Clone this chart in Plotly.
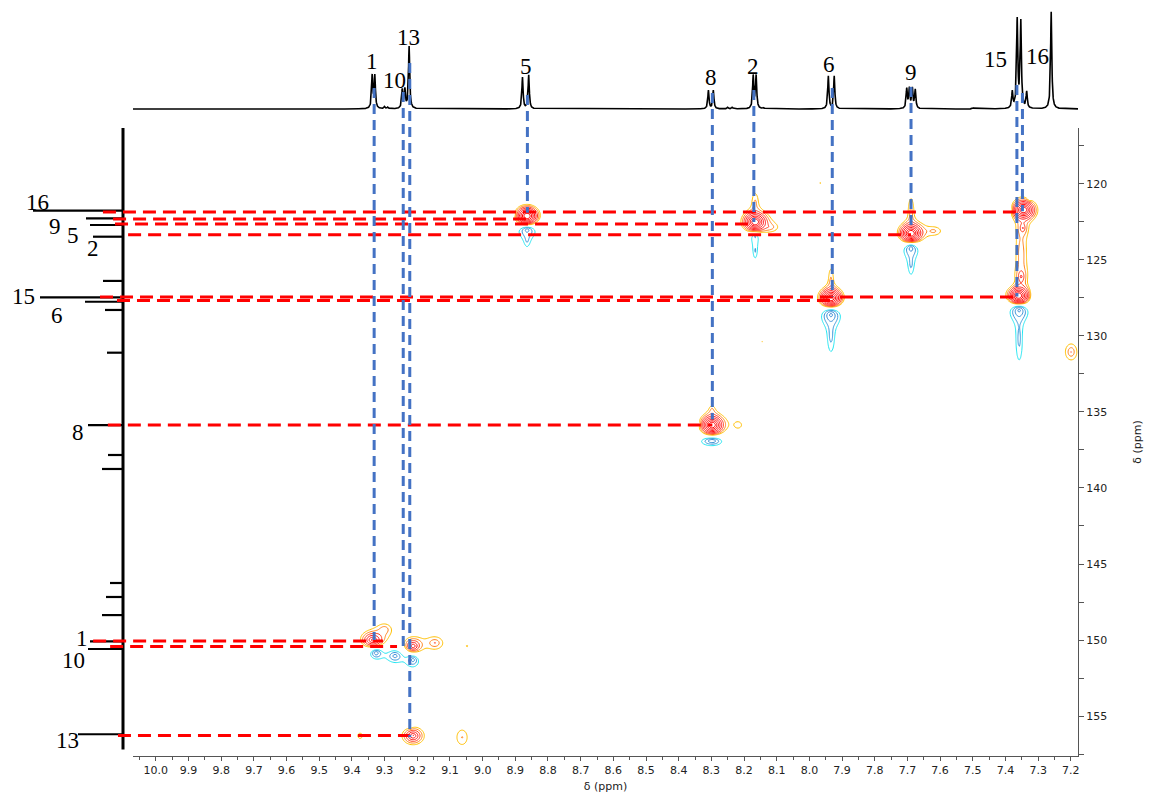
import numpy as np
import plotly.graph_objects as go

# ---------------- 1H projection (top trace) ----------------
h1_shift = [9.338, 9.330, 9.300, 9.290, 9.246, 9.238, 9.225,
            8.878, 8.859,
            8.309, 8.294, 8.250, 8.236,
            8.172, 8.163, 8.140,
            7.942, 7.924,
            7.702, 7.694, 7.685, 7.676,
            7.500,
            7.379, 7.364, 7.353, 7.335,
            7.260]
h1_height = [0.30, 0.30, 0.02, 0.015, 0.17, 0.17, 0.57,
             0.29, 0.31,
             0.17, 0.17, 0.015, 0.015,
             0.30, 0.30, 0.012,
             0.30, 0.30,
             0.18, 0.18, 0.18, 0.17,
             0.01,
             0.15, 0.81, 0.79, 0.15,
             0.89]
h1_hwhm = 0.0022

# ---------------- 13C projection (left stick trace) ----------------
c13_shift = [121.76, 122.26, 122.70, 123.47, 126.38, 127.46, 127.75, 128.29,
             131.10, 135.86, 137.83, 138.75, 146.25, 147.17, 148.36,
             150.09, 150.59, 156.20]
c13_height = [90, 37, 33, 30, 20, 83, 38, 18,
              16, 35, 15, 21, 13, 17, 21,
              33, 35, 45]

# ---------------- HSQC cross peaks ----------------
# positive responses: 1H ppm, 13C ppm, amplitude, decay widths (1H, 13C)
pos_h = [9.336, 9.300, 9.213, 9.146, 9.048, 9.213, 9.375, 9.063,
         8.864, 8.166, 8.166, 8.120, 8.298, 8.218, 8.298,
         7.934, 7.934, 7.689, 7.689, 7.620,
         7.345, 7.360, 7.352, 7.347, 7.352, 7.199, 7.967, 8.145]
pos_c = [150.00, 149.30, 150.40, 150.20, 150.40, 156.30, 156.30, 156.40,
         122.11, 122.50, 121.25, 122.85, 135.86, 135.86, 134.90,
         127.50, 126.40, 123.25, 121.90, 123.10,
         121.71, 127.35, 124.60, 122.90, 126.10, 131.05, 119.94, 130.40]
pos_amp = [0.25, 0.05, 0.20, 0.06, 0.03, 0.22, 0.033, 0.04,
           1.0, 1.0, 0.045, 0.045, 1.0, 0.035, 0.04,
           1.0, 0.05, 1.0, 0.05, 0.045,
           1.0, 1.0, 0.06, 0.07, 0.08, 0.06, 0.03, 0.03]
pos_lh = [0.017, 0.025, 0.0147, 0.027, 0.010, 0.0155, 0.025, 0.033,
          0.0116, 0.0116, 0.016, 0.036, 0.0116, 0.030, 0.012,
          0.0116, 0.013, 0.0116, 0.013, 0.036,
          0.0116, 0.0116, 0.020, 0.009, 0.011, 0.020, 0.010, 0.010]
pos_lc = [0.26, 0.45, 0.28, 0.45, 0.20, 0.27, 0.60, 1.00,
          0.214, 0.214, 1.10, 0.45, 0.214, 0.60, 0.50,
          0.214, 1.40, 0.214, 1.43, 0.45,
          0.214, 0.214, 2.00, 0.28, 0.38, 0.60, 0.20, 0.20]

# negative responses (magnitudes)
neg_h = [8.864, 8.864, 8.905,
         8.166, 8.166,
         8.298, 8.335,
         7.934, 7.934,
         7.689, 7.689,
         7.381, 7.327,
         7.381, 7.310, 7.358, 7.358,
         9.326, 9.268, 9.213, 9.390, 9.222]
neg_c = [123.00, 123.70, 122.00,
         123.40, 124.40,
         136.90, 135.80,
         128.60, 130.00,
         124.20, 125.30,
         121.70, 121.00,
         127.30, 127.30, 128.30, 130.20,
         150.85, 151.05, 151.30, 150.50, 155.40]
neg_amp = [0.07, 0.035, 0.03,
           0.055, 0.04,
           0.10, 0.03,
           0.10, 0.05,
           0.08, 0.045,
           0.035, 0.03,
           0.035, 0.04, 0.10, 0.05,
           0.09, 0.075, 0.08, 0.03, 0.03]
neg_lh = [0.025, 0.014, 0.006,
          0.020, 0.012,
          0.026, 0.006,
          0.020, 0.016,
          0.020, 0.015,
          0.010, 0.006,
          0.010, 0.012, 0.020, 0.016,
          0.016, 0.020, 0.018, 0.010, 0.006]
neg_lc = [0.40, 0.80, 0.15,
          0.45, 1.00,
          0.25, 0.15,
          0.45, 1.60,
          0.45, 1.20,
          0.40, 0.20,
          0.40, 0.50, 0.45, 2.20,
          0.30, 0.35, 0.40, 0.30, 0.30]

# ---------------- assignments ----------------
# horizontal (13C) guides: 13C ppm, 1H ppm where each stops, left start
hc_label = ['16', '5', '2', '9', '15', '6', '8', '1', '10', '13']
hc_c = [121.84, 122.30, 122.63, 123.35, 127.43, 127.66, 135.86, 150.07, 150.42, 156.28]
hc_h_end = [7.348, 8.863, 8.170, 7.689, 7.365, 7.930, 8.297, 9.305, 9.262, 9.223]
hc_h_start = [10.162, 10.131, 10.125, 10.085, 10.171, 10.119, 10.147, 10.192, 10.140, 10.116]

# vertical (1H) guides
vg_label = ['1', '10', '13', '5', '8', '2', '6', '9', '15', '16']
vg_h = [9.332, 9.243, 9.223, 8.863, 8.297, 8.170, 7.930, 7.689, 7.365, 7.348]
vg_c_top = [113.69, 113.95, 112.04, 114.15, 114.02, 113.82, 113.69, 113.62, 113.49, 114.02]
vg_c_end = [150.0, 150.4, 156.4, 121.9, 135.5, 122.5, 127.4, 122.9, 127.4, 121.8]

# label positions (page pixels) for the numbering
top_lab_text = ['1', '10', '13', '5', '8', '2', '6', '9', '15', '16']
top_lab_px = [(372, 62), (394, 80), (408, 37), (526, 67), (711, 77),
              (753, 67), (829, 65), (911, 72), (995, 60), (1037, 57)]
left_lab_text = ['16', '9', '5', '2', '15', '6', '8', '1', '10', '13']
left_lab_px = [(37, 202), (55, 227), (73, 236), (93, 248), (23, 296),
               (57, 315), (78, 432), (82, 638), (73, 660), (67, 740)]

# ---------------- geometry ----------------
W, H = 1149, 796
ML, MR, MT, MB = 0, 71, 0, 40
PW, PH = W - ML - MR, H - MT - MB          # plot area 1078 x 756
X_MAIN0 = 133                               # left edge of the 2D panel
Y_MAIN0 = 128                               # top edge of the 2D panel
H_RANGE = [10.070, 7.178]
C_RANGE = [157.63, 116.32]
px_per_h = (PW - X_MAIN0) / (H_RANGE[0] - H_RANGE[1])
px_per_c = (PH - Y_MAIN0) / (C_RANGE[0] - C_RANGE[1])
H_EXT = [H_RANGE[0] + X_MAIN0 / px_per_h, H_RANGE[1]]
C_EXT = [C_RANGE[0], C_RANGE[1] - Y_MAIN0 / px_per_c]

# ---------------- computed traces ----------------
hx = np.arange(H_RANGE[1], H_RANGE[0], 0.0005)
hy = np.zeros_like(hx)
for s, a in zip(h1_shift, h1_height):
    hy += a / (1.0 + ((hx - s) / h1_hwhm) ** 2)

gh = np.arange(H_RANGE[1] - 0.01, H_RANGE[0] + 0.01, 0.0035)
gc = np.arange(C_RANGE[1] - 0.3, C_RANGE[0] + 0.3, 0.07)
GH, GC = np.meshgrid(gh, gc)
Z = np.zeros_like(GH)


def cross_peak(h, c, a, lh, lc):
    return a * np.exp(-np.sqrt(((GH - h) / lh) ** 2 + ((GC - c) / lc) ** 2))


for p in zip(pos_h, pos_c, pos_amp, pos_lh, pos_lc):
    Z += cross_peak(*p)
for p in zip(neg_h, neg_c, neg_amp, neg_lh, neg_lc):
    Z -= cross_peak(*p)
z_pos = np.log10(np.maximum(Z, 1e-7)).astype(np.float32)
z_neg = np.log10(np.maximum(-Z, 1e-7)).astype(np.float32)

# geometric contour levels: 0.025 * 1.5**k, k = 0..7
N_LEV = 8
lev0 = np.log10(0.025)
lev_step = np.log10(1.5)
lev1 = lev0 + (N_LEV - 1) * lev_step

fig = go.Figure()

fig.add_trace(go.Contour(
    x=gh, y=gc, z=z_pos, xaxis='x', yaxis='y',
    contours=dict(start=lev0, end=lev1, size=lev_step, coloring='lines'),
    colorscale=[[0, '#FFC000'], [0.07, '#FFC000'], [0.143, '#FF9020'],
                [0.286, '#FF4A1A'], [0.43, '#FF1A1A'], [1, '#FF0000']],
    zmin=lev0, zmax=lev1, zauto=False, showscale=False,
    line=dict(width=1), hoverinfo='skip'))
fig.add_trace(go.Contour(
    x=gh, y=gc, z=z_neg, xaxis='x', yaxis='y',
    contours=dict(start=lev0, end=lev1, size=lev_step, coloring='lines'),
    colorscale=[[0, '#22E6F2'], [0.07, '#22E6F2'], [0.143, '#3A98DA'], [1, '#3070C8']],
    zmin=lev0, zmax=lev1, zauto=False, showscale=False,
    line=dict(width=1), hoverinfo='skip'))

# 1H projection
fig.add_trace(go.Scatter(x=hx, y=hy, xaxis='x', yaxis='y3', mode='lines',
                         line=dict(color='black', width=1.6), hoverinfo='skip'))

# 13C projection: baseline and sticks
fig.add_trace(go.Scatter(x=[0, 0], y=[C_RANGE[1], 157.2], xaxis='x2', yaxis='y',
                         mode='lines', line=dict(color='black', width=3), hoverinfo='skip'))
sx, sy = [], []
for c, a in zip(c13_shift, c13_height):
    sx += [0, a, None]
    sy += [c, c, None]
fig.add_trace(go.Scatter(x=sx, y=sy, xaxis='x2', yaxis='y', mode='lines',
                         line=dict(color='black', width=2.2), hoverinfo='skip'))

# assignment guides
for c, h0, h1 in zip(hc_c, hc_h_start, hc_h_end):
    fig.add_trace(go.Scatter(x=[h0, h1], y=[c, c], xaxis='x4', yaxis='y4', mode='lines',
                             line=dict(color='#FF0000', width=3, dash='13px,7px'),
                             hoverinfo='skip'))
for h, c0, c1 in zip(vg_h, vg_c_top, vg_c_end):
    fig.add_trace(go.Scatter(x=[h, h], y=[c0, c1], xaxis='x4', yaxis='y4', mode='lines',
                             line=dict(color='#4472C4', width=3, dash='10px,6px'),
                             hoverinfo='skip'))

annotations = []
serif = dict(family='Liberation Serif, Times New Roman, serif', size=23, color='black')
for t, (px, py) in zip(top_lab_text + left_lab_text, top_lab_px + left_lab_px):
    annotations.append(dict(text=t, x=(px - ML) / PW, y=1 - (py - MT) / PH,
                            xref='paper', yref='paper', showarrow=False,
                            xanchor='center', yanchor='middle', font=serif))

tick_font = dict(family='DejaVu Sans, Verdana, sans-serif', size=11, color='#222222')
axis_col = '#555555'
fig.update_layout(
    width=W, height=H, autosize=False,
    margin=dict(l=ML, r=MR, t=MT, b=MB, pad=0),
    paper_bgcolor='white', plot_bgcolor='rgba(0,0,0,0)',
    showlegend=False,
    annotations=annotations,
    xaxis=dict(domain=[X_MAIN0 / PW, 1], range=H_RANGE, anchor='y',
               tickmode='array', tickvals=[round(v, 1) for v in np.arange(7.2, 10.05, 0.1)],
               ticktext=['%.1f' % v for v in np.arange(7.2, 10.05, 0.1)],
               ticks='outside', ticklen=4, tickcolor=axis_col, tickwidth=1,
               minor=dict(tickmode='array', tickvals=[round(v, 2) for v in np.arange(7.25, 10.07, 0.1)],
                          ticks='outside', ticklen=3, tickcolor=axis_col),
               showline=True, linecolor=axis_col, linewidth=1, showgrid=False, zeroline=False,
               tickfont=tick_font,
               title=dict(text='δ (ppm)', font=tick_font, standoff=6)),
    yaxis=dict(domain=[0, 1 - Y_MAIN0 / PH], range=C_RANGE, anchor='x', side='right',
               tickmode='array', tickvals=list(range(120, 160, 5)),
               ticks='outside', ticklen=5, tickcolor=axis_col, tickwidth=1,
               minor=dict(tickmode='array', tickvals=[117.5 + 5 * i for i in range(9)],
                          ticks='outside', ticklen=5, tickcolor=axis_col),
               showline=True, linecolor=axis_col, linewidth=1, showgrid=False, zeroline=False,
               tickfont=tick_font,
               title=dict(text='δ (ppm)', font=tick_font, standoff=27)),
    xaxis2=dict(domain=[0, X_MAIN0 / PW], range=[123, -10], anchor='y', visible=False),
    yaxis3=dict(domain=[1 - 120 / PH, 1], range=[-0.101, 1.0], anchor='x', visible=False),
    xaxis4=dict(domain=[0, 1], range=H_EXT, anchor='y4', visible=False),
    yaxis4=dict(domain=[0, 1], range=C_EXT, anchor='x4', visible=False),
)

fig.write_html('out.html')
